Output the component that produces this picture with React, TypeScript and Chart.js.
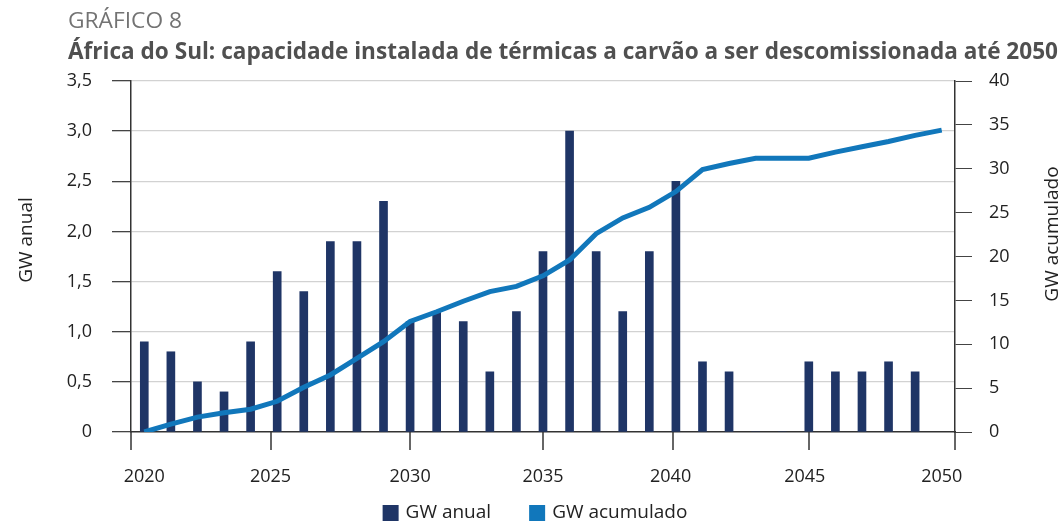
import React, { useEffect, useRef } from 'react';
import { Chart, registerables } from 'chart.js';

Chart.register(...registerables);

const years = [
  2020, 2021, 2022, 2023, 2024, 2025, 2026, 2027, 2028, 2029,
  2030, 2031, 2032, 2033, 2034, 2035, 2036, 2037, 2038, 2039,
  2040, 2041, 2042, 2043, 2044, 2045, 2046, 2047, 2048, 2049, 2050,
];

// GW anual (2020–2049)
const annualGW = [
  0.9, 0.8, 0.5, 0.4, 0.9, 1.6, 1.4, 1.9, 1.9, 2.3,
  1.1, 1.2, 1.1, 0.6, 1.2, 1.8, 3.0, 1.8, 1.2, 1.8,
  2.5, 0.7, 0.6, 0, 0, 0.7, 0.6, 0.6, 0.7, 0.6,
];

// GW acumulado (2020–2050)
const cumulativeGW = [
  0, 0.9, 1.7, 2.2, 2.6, 3.5, 5.1, 6.5, 8.4, 10.3,
  12.6, 13.7, 14.9, 16.0, 16.6, 17.8, 19.6, 22.6, 24.4, 25.6,
  27.4, 29.9, 30.6, 31.2, 31.2, 31.2, 31.9, 32.5, 33.1, 33.8, 34.4,
];

const xTickLabels = ['2020', '2025', '2030', '2035', '2040', '2045', '2050'];
const xLabelValues = [2020, 2024.75, 2030, 2035, 2039.8, 2044.85, 2050];
const xTickMarkValues = [2019.5, 2024.75, 2030, 2035, 2039.9, 2045, 2050.5];

const TITLE_SMALL = 'GRÁFICO 8';
const TITLE = 'África do Sul: capacidade instalada de térmicas a carvão a ser descomissionada até 2050';
const LEFT_TITLE = 'GW anual';
const RIGHT_TITLE = 'GW acumulado';
const SERIES_ANNUAL = 'GW anual';
const SERIES_CUM = 'GW acumulado';

const BAR_COLOR = '#1f3566';
const LINE_COLOR = '#1177bb';
const FONT = "'Open Sans', 'Noto Sans', sans-serif";

function drawFitted(ctx: CanvasRenderingContext2D, text: string, x: number, y: number, font: string, color: string, target: number) {
  ctx.save();
  ctx.font = font;
  ctx.fillStyle = color;
  ctx.textAlign = 'left';
  ctx.textBaseline = 'alphabetic';
  const w = ctx.measureText(text).width;
  ctx.translate(x, y);
  ctx.scale(target / w, 1);
  ctx.fillText(text, 0, 0);
  ctx.restore();
}

const decorPlugin = {
  id: 'decor',
  afterDraw(chart: any) {
    const ctx: CanvasRenderingContext2D = chart.ctx;
    const area = chart.chartArea;
    ctx.save();

    // Titles
    drawFitted(ctx, TITLE_SMALL, 68, 28, `400 22px ${FONT}`, '#737373', 114);
    drawFitted(ctx, TITLE, 68, 59, `700 24px ${FONT}`, '#505050', 990);

    // Axis titles (both read bottom to top)
    ctx.font = `400 19px ${FONT}`;
    ctx.fillStyle = '#222';
    ctx.textAlign = 'center';
    ctx.textBaseline = 'alphabetic';
    ctx.save();
    ctx.translate(32, 240);
    ctx.rotate(-Math.PI / 2);
    ctx.fillText(LEFT_TITLE, 0, 0);
    ctx.restore();
    ctx.save();
    ctx.translate(1058, 234);
    ctx.rotate(-Math.PI / 2);
    ctx.fillText(RIGHT_TITLE, 0, 0);
    ctx.restore();

    // X tick marks
    const xs = chart.scales.x;
    ctx.strokeStyle = '#333';
    ctx.lineWidth = 1.5;
    xTickMarkValues.forEach((v) => {
      const px = Math.round(xs.getPixelForValue(v));
      ctx.beginPath();
      ctx.moveTo(px, area.bottom);
      ctx.lineTo(px, area.bottom + 18);
      ctx.stroke();
    });

    // Legend
    const items = chart.data.datasets.map((d: any) => ({ label: d.label, color: d.legendColor }));
    ctx.font = `400 19px ${FONT}`;
    ctx.textAlign = 'left';
    ctx.textBaseline = 'middle';
    const box = 16, gap = 7, spacing = 38;
    const widths = items.map((it: any) => ctx.measureText(it.label).width);
    const total = widths.reduce((a: number, w: number) => a + box + gap + w, 0) + spacing * (items.length - 1);
    let x = 535 - total / 2;
    const yMid = 513;
    items.forEach((it: any, i: number) => {
      ctx.fillStyle = it.color;
      ctx.fillRect(x, yMid - box / 2, box, box);
      x += box + gap;
      ctx.fillStyle = '#222';
      ctx.fillText(it.label, x, yMid);
      x += widths[i] + spacing;
    });

    ctx.restore();
  },
};

const fmtLeft = (v: number) => (v === 0 ? '0' : v.toFixed(1).replace('.', ','));

export default function App() {
  const ref = useRef<HTMLCanvasElement | null>(null);

  useEffect(() => {
    if (!ref.current) return;
    const chart = new Chart(ref.current, {
      type: 'bar',
      data: {
        datasets: [
          {
            type: 'bar',
            label: SERIES_ANNUAL,
            data: annualGW.map((v, i) => ({ x: years[i], y: v })),
            backgroundColor: BAR_COLOR,
            legendColor: BAR_COLOR,
            barThickness: 8,
            yAxisID: 'y',
            order: 2,
          } as any,
          {
            type: 'line',
            label: SERIES_CUM,
            data: cumulativeGW.map((v, i) => ({ x: years[i], y: v })),
            borderColor: LINE_COLOR,
            legendColor: LINE_COLOR,
            borderWidth: 5,
            pointRadius: 0,
            tension: 0,
            fill: false,
            yAxisID: 'y1',
            order: 1,
          } as any,
        ],
      },
      options: {
        animation: false,
        responsive: false,
        devicePixelRatio: 1,
        layout: { padding: { top: 81, left: 0, right: 0, bottom: 40 } },
        plugins: {
          legend: { display: false },
          title: { display: false },
          tooltip: { enabled: false },
        },
        scales: {
          x: {
            type: 'linear',
            min: 2019.5,
            max: 2050.5,
            offset: false,
            afterFit: (s: any) => { s.height = 50; },
            afterBuildTicks: (s: any) => { s.ticks = xLabelValues.map((v) => ({ value: v })); },
            grid: { display: false, drawTicks: false },
            border: { display: true, color: '#333', width: 1.5 },
            ticks: {
              autoSkip: false,
              maxRotation: 0,
              padding: 34,
              color: '#222',
              font: { family: FONT, size: 18 },
              callback: (_v: any, i: number) => xTickLabels[i],
            },
          },
          y: {
            type: 'linear',
            position: 'left',
            min: 0,
            max: 3.5,
            afterFit: (s: any) => { s.width = 131; },
            grid: {
              color: (c: any) => (c.tick && c.tick.value === 0 ? 'rgba(0,0,0,0)' : '#d2d2d2'),
              lineWidth: 1.3,
              tickColor: '#444',
              tickLength: 19,
              drawTicks: true,
            },
            border: { display: true, color: '#333', width: 1.5 },
            ticks: {
              stepSize: 0.5,
              padding: 20,
              color: '#222',
              font: { family: FONT, size: 18 },
              callback: (v: any) => fmtLeft(Number(v)),
            },
          },
          y1: {
            type: 'linear',
            position: 'right',
            min: 0,
            max: 40,
            afterFit: (s: any) => { s.width = 109; },
            grid: {
              drawOnChartArea: false,
              tickColor: '#444',
              tickLength: 17,
              drawTicks: true,
            },
            border: { display: true, color: '#333', width: 1.5 },
            ticks: {
              stepSize: 5,
              padding: 17,
              color: '#222',
              font: { family: FONT, size: 18 },
            },
          },
        },
      } as any,
      plugins: [decorPlugin],
    });
    return () => chart.destroy();
  }, []);

  return (
    <div style={{ position: 'fixed', left: 0, top: 0, width: 1064, height: 522, background: '#fff' }}>
      <canvas ref={ref} width={1064} height={522} style={{ display: 'block' }} />
    </div>
  );
}
